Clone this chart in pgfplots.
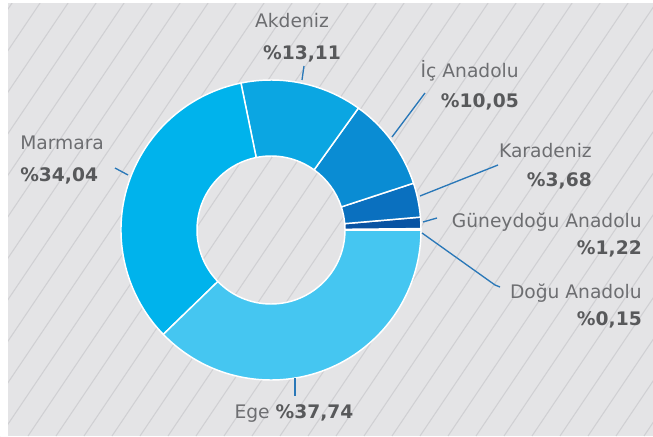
\documentclass[border=0pt]{standalone}
\usepackage{pgfplots}
\pgfplotsset{compat=1.18}
\usepackage{fontspec}
\setmainfont{DejaVu Sans}
\definecolor{BgGray}{HTML}{E4E4E6}
\definecolor{Stripe}{HTML}{D0D0D3}
\definecolor{TxtName}{HTML}{6D6E71}
\definecolor{TxtPct}{HTML}{58595B}
\definecolor{LeadBlue}{HTML}{2A78B8}
\definecolor{DoguC}{HTML}{3A8FD0}
\definecolor{GuneyC}{HTML}{0853A3}
\definecolor{KaraC}{HTML}{0A70BF}
\definecolor{IcC}{HTML}{0A8CD3}
\definecolor{AkC}{HTML}{0BA6E2}
\definecolor{MarC}{HTML}{00B3EC}
\definecolor{EgeC}{HTML}{45C6F1}
\tikzset{lbl/.style={font=\fontsize{14}{16}\selectfont, inner sep=0pt}}

% share (%) / colour, counter-clockwise from 0 deg
\def\slices{0.15/DoguC,1.22/GuneyC,3.68/KaraC,10.05/IcC,13.11/AkC,34.04/MarC,37.74/EgeC}

\begin{document}
\begin{tikzpicture}
  \path[use as bounding box] (0,0) rectangle (489.75pt,327pt);
  % background with diagonal stripes
  \fill[BgGray] (0,0) rectangle (489.75pt,327pt);
  \begin{scope}
    \clip (0,0) rectangle (489.75pt,327pt);
    \foreach \i in {-14,...,26}
      \draw[Stripe, line width=0.8pt] (\i*21pt,0) -- ++(56:420pt);
  \end{scope}
  \fill[white] (0,324.75pt) rectangle (489.75pt,327pt);
  \fill[white] (0,0) rectangle (6pt,327pt);

  \begin{axis}[
    hide axis, scale only axis, clip=false,
    width=489.75pt, height=327pt,
    xmin=0, xmax=653, ymin=0, ymax=436,
  ]
    %% donut wedges
    \gdef\cum{0}
    \foreach \v/\c in \slices {
      \pgfmathsetmacro\a{\cum*3.6}
      \pgfmathsetmacro\b{(\cum+\v)*3.6}
      \edef\doit{\noexpand\fill[\c, draw=white, line width=1.1pt, line join=round]
        ([shift={(\a:112.5pt)}]axis cs:271,206)
        arc[start angle=\a, end angle=\b, radius=112.5pt]
        -- ([shift={(\b:55.5pt)}]axis cs:271,206)
        arc[start angle=\b, end angle=\a, radius=55.5pt] -- cycle;}
      \doit
      \pgfmathsetmacro\nc{\cum+\v}
      \xdef\cum{\nc}
    }

    %% leader lines
    \draw[LeadBlue, line width=1pt] (axis cs:304,370) -- (axis cs:302,356);
    \draw[LeadBlue, line width=1pt] (axis cs:425,343) -- (axis cs:392,299);
    \draw[LeadBlue, line width=1pt] (axis cs:498,271) -- (axis cs:420,240);
    \draw[LeadBlue, line width=1pt] (axis cs:437,218) -- (axis cs:423,214);
    \draw[LeadBlue, line width=1pt] (axis cs:422,203) -- (axis cs:495,151) -- (axis cs:500,149);
    \draw[LeadBlue, line width=1pt] (axis cs:115,268) -- (axis cs:128,261);
    \draw[LeadBlue, line width=1pt] (axis cs:295,58) -- (axis cs:295,40);

    %% labels
    \node[lbl, anchor=base, TxtName] at (axis cs:292,408) {Akdeniz};
    \node[lbl, anchor=base, TxtPct] at (axis cs:302,376) {\bfseries\%13,11};
    \node[lbl, anchor=base east, TxtName] at (axis cs:519,358) {İç Anadolu};
    \node[lbl, anchor=base east, TxtPct] at (axis cs:519,328) {\bfseries\%10,05};
    \node[lbl, anchor=base east, TxtName] at (axis cs:592,278) {Karadeniz};
    \node[lbl, anchor=base east, TxtPct] at (axis cs:592,249) {\bfseries\%3,68};
    \node[lbl, anchor=base east, TxtName] at (axis cs:642,209) {Güneydoğu Anadolu};
    \node[lbl, anchor=base east, TxtPct] at (axis cs:642,181) {\bfseries\%1,22};
    \node[lbl, anchor=base east, TxtName] at (axis cs:642,138) {Doğu Anadolu};
    \node[lbl, anchor=base east, TxtPct] at (axis cs:642,111) {\bfseries\%0,15};
    \node[lbl, anchor=base west, TxtName] at (axis cs:20,286) {Marmara};
    \node[lbl, anchor=base west, TxtPct] at (axis cs:20,254) {\bfseries\%34,04};
    \node[lbl, anchor=base, TxtName] at (axis cs:294,18) {Ege \textcolor{TxtPct}{\bfseries\%37,74}};
  \end{axis}
\end{tikzpicture}
\end{document}
